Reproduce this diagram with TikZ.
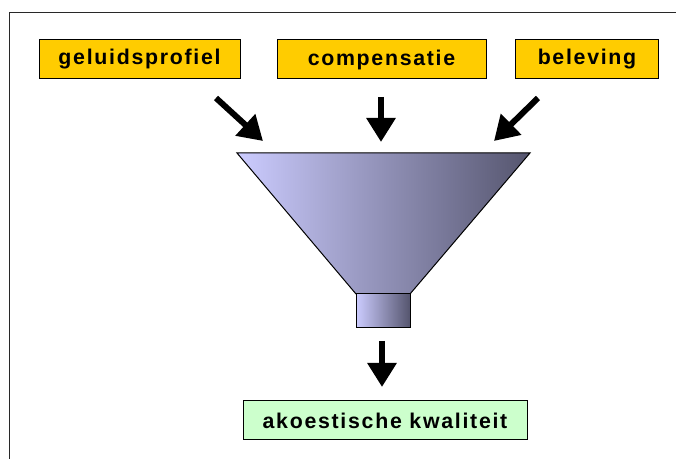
\documentclass[tikz,border=0pt]{standalone}
\usepackage{fontspec}
\newfontfamily\labelfont{Liberation Sans}[LetterSpace=8]
\usetikzlibrary{arrows.meta}
\definecolor{inputyellow}{RGB}{255,204,0}
\definecolor{resultgreen}{RGB}{204,255,204}
\definecolor{funnellight}{RGB}{204,204,255}
\definecolor{funneldark}{RGB}{85,85,110}
\definecolor{framegray}{RGB}{40,40,40}

\tikzset{every picture/.style={line width=0.75pt}}
\tikzset{
  inbox/.style={draw, fill=inputyellow, minimum height=29.25pt, inner sep=0pt, font=\labelfont\fontsize{16pt}{19pt}\selectfont\bfseries},
  outbox/.style={inbox, fill=resultgreen},
  fatarrow/.style={line width=4.5pt, -{Triangle[length=18pt,width=21pt]}}
}

\begin{document}
\begin{tikzpicture}[x=0.75pt,y=0.75pt,yscale=-1,xscale=1]
    \useasboundingbox (0,0) rectangle (676,459);

    %Frame
    \draw [color=framegray] (9,459) -- (9,13) -- (676,13) ;

    % Input boxes
    \node (geluid) [inbox, minimum width=150.75pt] at (139.5,59.5) {geluidsprofiel};
    \node (comp) [inbox, minimum width=156.75pt] at (381.5,59.5) {compensatie};
    \node (belev) [inbox, minimum width=107.25pt] at (587,59.5) {beleving};

    %Funnel
    \draw [left color=funnellight, right color=funneldark] (237,153) -- (530,153) -- (410,294) -- (356,294) -- cycle ;
    %Spout
    \draw [left color=funnellight, right color=funneldark] (356,294) rectangle (410,328) ;

    % Result box
    \node (kwal) [outbox, minimum width=213pt] at (385,420.5) {akoestische kwaliteit};

    % Arrow ends
    \coordinate (geluidS) at (216,98);
    \coordinate (geluidE) at (263,141);
    \coordinate (compS) at (381,97);
    \coordinate (compE) at (381,142);
    \coordinate (belevS) at (538,98);
    \coordinate (belevE) at (494,141);
    \coordinate (spoutS) at (382,341);
    \coordinate (spoutE) at (382,387);

    %Arrows
    \draw [fatarrow] (geluidS) -- (geluidE) ;
    \draw [fatarrow] (compS) -- (compE) ;
    \draw [fatarrow] (belevS) -- (belevE) ;
    \draw [fatarrow] (spoutS) -- (spoutE) ;

\end{tikzpicture}
\end{document}
